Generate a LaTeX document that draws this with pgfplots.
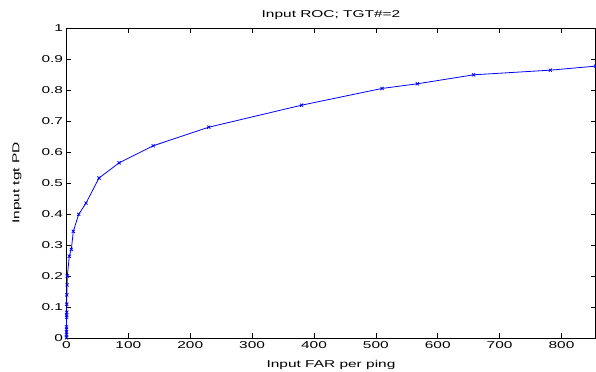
\documentclass[border=0pt]{standalone}
\usepackage{pgfplots}
\pgfplotsset{compat=1.18}
\usepackage{fontspec}
\setmainfont{Liberation Sans}[FakeStretch=1.55]
\begin{document}
\fontsize{10}{12}\selectfont
\begin{tikzpicture}[x=1bp,y=1bp]
\begin{axis}[
  at={(0,0)}, anchor=south west,
  scale only axis,
  width=529bp, height=310bp,
  xmin=0, xmax=855, ymin=0, ymax=1,
  xtick={0,100,...,800},
  ytick={0,0.1,...,1},
  yticklabels={0,0.1,0.2,0.3,0.4,0.5,0.6,0.7,0.8,0.9,1},
  tick align=inside,
  major tick length=5bp,
  tick style={black, line width=0.5pt},
  axis line style={black, line width=0.6pt},
  /pgf/number format/assume math mode=true,
  tick label style={font=\fontsize{10}{12}\selectfont},
  title={Input ROC; TGT\#=2},
  title style={font=\fontsize{10}{12}\selectfont, at={(axis description cs:0.5,1.0235)}, anchor=center},
  xlabel={Input FAR per ping},
  ylabel={Input tgt PD},
  xlabel style={font=\fontsize{10}{12}\selectfont, at={(axis description cs:0.5,-0.087)}, anchor=center},
  ylabel style={font=\fontsize{10}{12}\selectfont, at={(axis description cs:-0.0936,0.5)}, anchor=center},
  clip=false,
]
\addplot[color={rgb,1:red,0;green,0;blue,1}, line width=0.8pt, mark=x, mark size=2.2bp, mark options={solid}] coordinates {
(0,0.001) (0,0.012) (0,0.019) (0,0.028) (0,0.036) (0.2,0.067) (0.2,0.074) (0.3,0.083) (0.4,0.109) (0.5,0.139)
(1,0.171) (1.3,0.2) (4.5,0.264) (7.8,0.286) (11,0.344) (19.7,0.399) (31.5,0.435) (52.5,0.516)
(85,0.565) (140,0.62) (230,0.68) (380,0.751) (510,0.805) (567,0.82) (658,0.849) (782,0.864) (855,0.877)
};
\end{axis}
\pgfresetboundingbox
\path (-66.5bp,-34bp) rectangle (529.5bp,338bp);
\end{tikzpicture}
\end{document}
